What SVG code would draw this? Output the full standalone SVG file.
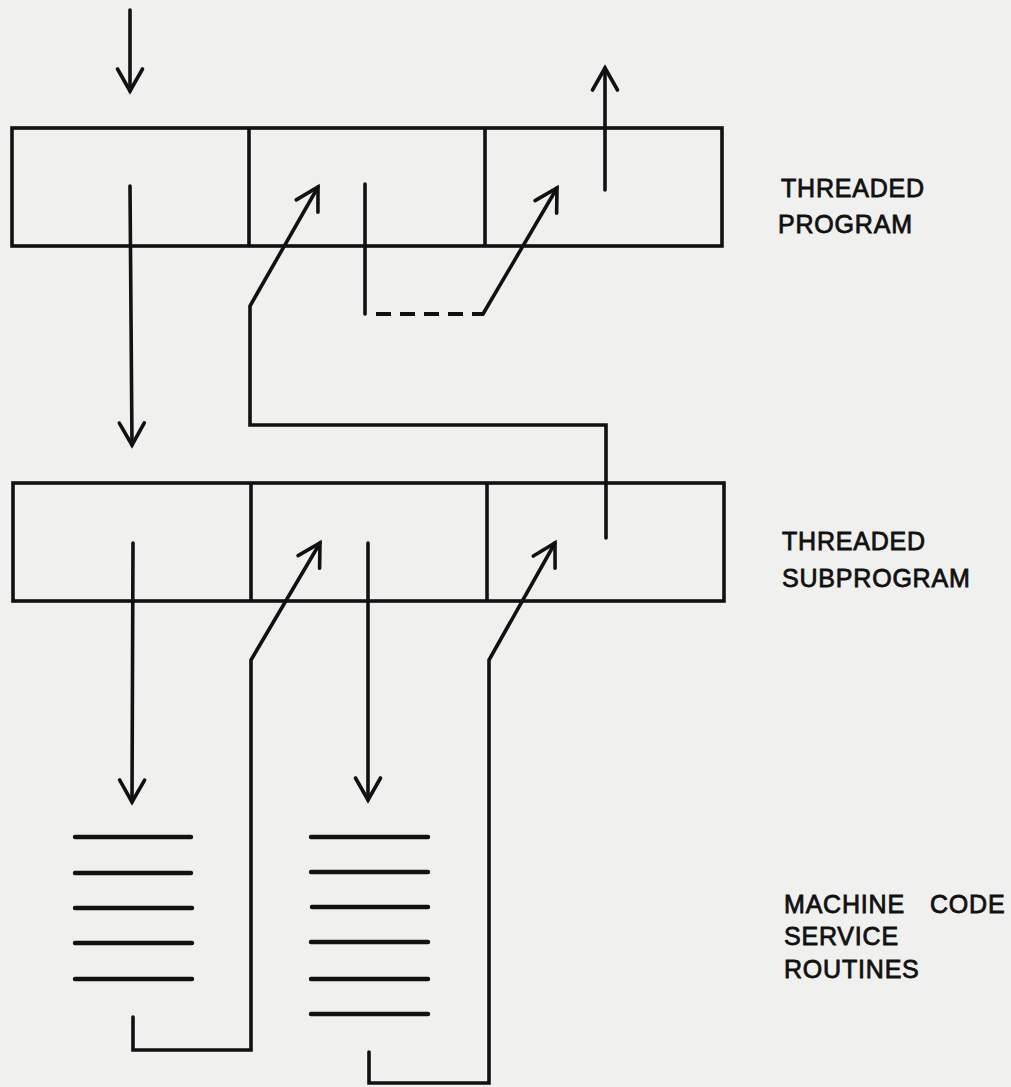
<svg xmlns="http://www.w3.org/2000/svg" width="1011" height="1087" viewBox="0 0 1011 1087">
  <defs>
    <marker id="v" markerUnits="userSpaceOnUse" viewBox="-26 -16 30 32" refX="0" refY="0" markerWidth="30" markerHeight="32" orient="auto">
      <path d="M-22,-12.5 L0,0 L-22,12.5" fill="none" stroke="#111" stroke-width="3.6" stroke-linecap="round" stroke-linejoin="miter"/>
    </marker>
    <style>
      .box { fill: none; stroke: #111; stroke-width: 3.6; stroke-linejoin: miter; }
      .div { stroke: #111; stroke-width: 3.6; }
      .conn { fill: none; stroke: #111; stroke-width: 3.6; stroke-linecap: round; stroke-linejoin: miter; }
      .dash { fill: none; stroke: #111; stroke-width: 4; stroke-dasharray: 15 9; }
      .code { stroke: #111; stroke-width: 4.4; stroke-linecap: round; }
      .lbl { font-family: "Liberation Sans", Arial, sans-serif; font-size: 25px; fill: #111; stroke: #111; stroke-width: 0.8px; letter-spacing: 0.8px; }
    </style>
  </defs>
  <rect x="0" y="0" width="1011" height="1087" fill="#f0f0ef"/>

  <g id="threaded-program">
    <rect class="box" x="12" y="128" width="710" height="118"/>
    <line class="div" x1="249" y1="128" x2="249" y2="246"/>
    <line class="div" x1="485" y1="128" x2="485" y2="246"/>
    <text class="lbl" x="781" y="197">THREADED</text>
    <text class="lbl" x="778" y="233">PROGRAM</text>
  </g>

  <g id="threaded-subprogram">
    <rect class="box" x="13" y="483" width="711" height="118"/>
    <line class="div" x1="251" y1="483" x2="251" y2="601"/>
    <line class="div" x1="487" y1="483" x2="487" y2="601"/>
    <text class="lbl" x="782" y="550">THREADED</text>
    <text class="lbl" x="782" y="587">SUBPROGRAM</text>
  </g>

  <g id="service-routine-1">
    <line class="code" x1="75" y1="837" x2="191" y2="837"/>
    <line class="code" x1="75" y1="873" x2="191" y2="873"/>
    <line class="code" x1="75" y1="908" x2="192" y2="908"/>
    <line class="code" x1="75" y1="943" x2="192" y2="943"/>
    <line class="code" x1="75" y1="979" x2="192" y2="979"/>
  </g>

  <g id="service-routine-2">
    <line class="code" x1="311" y1="837" x2="428" y2="837"/>
    <line class="code" x1="311" y1="872" x2="428" y2="872"/>
    <line class="code" x1="312" y1="907" x2="428" y2="907"/>
    <line class="code" x1="311" y1="942" x2="428" y2="942"/>
    <line class="code" x1="311" y1="979" x2="428" y2="979"/>
    <line class="code" x1="311" y1="1014" x2="428" y2="1014"/>
  </g>

  <g id="machine-code-label">
    <text class="lbl" x="784" y="913">MACHINE<tspan x="930">CODE</tspan></text>
    <text class="lbl" x="784" y="945">SERVICE</text>
    <text class="lbl" x="784" y="978">ROUTINES</text>
  </g>

  <g id="connectors">
    <path class="conn" d="M130,10 L130,91" marker-end="url(#v)"/>
    <path class="conn" d="M130,186 L132,445" marker-end="url(#v)"/>
    <path class="conn" d="M606,538 L606,425 L250,425 L250,306 L318,187" marker-end="url(#v)"/>
    <path class="conn" d="M365,184 L365,314"/>
    <path class="dash" d="M376,314 L483,314"/>
    <path class="conn" d="M483,314 L557,188" marker-end="url(#v)"/>
    <path class="conn" d="M605,190 L605,68" marker-end="url(#v)"/>
    <path class="conn" d="M133,543 L132,802" marker-end="url(#v)"/>
    <path class="conn" d="M133,1017 L133,1050 L251,1050 L251,660 L320,543" marker-end="url(#v)"/>
    <path class="conn" d="M368,543 L368,800" marker-end="url(#v)"/>
    <path class="conn" d="M369,1052 L369,1083 L489,1083 L489,660 L555,543" marker-end="url(#v)"/>
  </g>
</svg>
